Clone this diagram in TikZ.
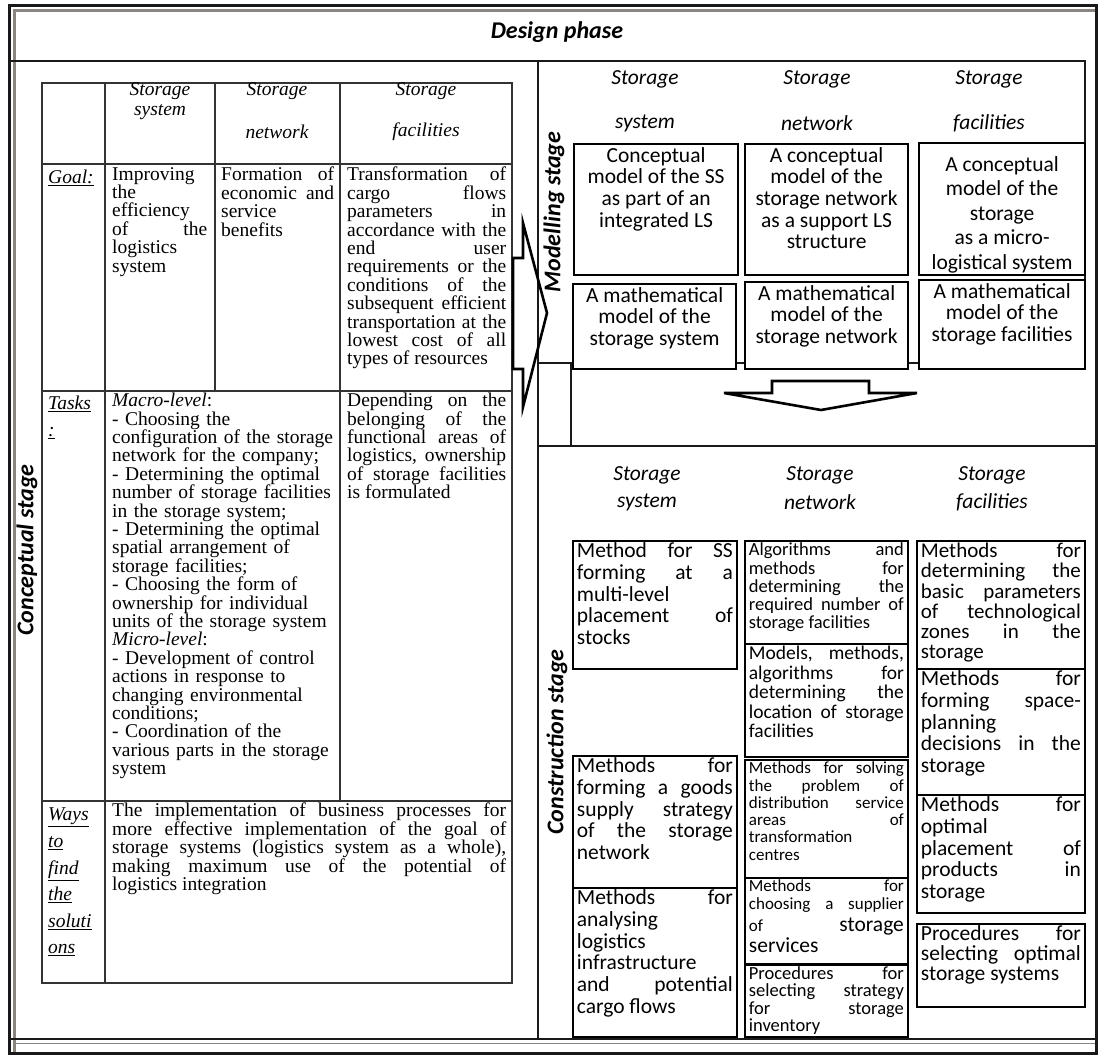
\documentclass[tikz,border=0pt]{standalone}
\usepackage{fontspec}
\setmainfont{Carlito}
\newfontfamily\tnr{Liberation Serif}
\usetikzlibrary{positioning}
\definecolor{framegray}{RGB}{138,133,126}
\hyphenpenalty=10000
\exhyphenpenalty=10000
\tolerance=10000
\hbadness=10000

\begin{document}
\begin{tikzpicture}[x=1pt,y=-1pt,
    frame/.style={line width=2.8pt, black!90},
    grayframe/.style={line width=3pt, framegray},
    tabline/.style={line width=1.3pt, black!80},
    shaft/.style={line width=2.6pt, black, line join=miter},
    stage/.style={font=\fontsize{24}{24}\selectfont\bfseries\itshape, rotate=90, inner sep=0pt},
    colhead/.style={font=\fontsize{21.5}{21.7}\selectfont\itshape, inner sep=0pt},
    mbox/.style={draw, line width=2.2pt, fill=white, anchor=north west, inner xsep=4pt, inner ysep=3pt},
    cbox/.style={draw, line width=1.8pt, fill=white, anchor=north west, inner xsep=4pt, inner ysep=2pt},
    thead/.style={font=\tnr\fontsize{19.5}{18.4}\selectfont\itshape, inner sep=0pt},
    tcell/.style={font=\tnr\fontsize{19.5}{18.4}\selectfont, anchor=north west, inner sep=0pt},
    tlabel/.style={font=\tnr\fontsize{19.5}{26.6}\selectfont\itshape, anchor=north west, inner sep=0pt, align=left}
]
\useasboundingbox (0,0) rectangle (1098,1055);

% outer frame and stage borders
\draw [grayframe] (14,1055) -- (14,10) -- (1096,10);
\draw [framegray, line width=1pt] (14,1043) -- (1096,1043);
\draw [frame] (9.5,5.5) rectangle (1096.5,1053.5);
\draw [frame] (9.5,61) -- (1085,61) -- (1085,363) -- (538,363);
\draw [frame] (538,61) -- (538,1039);
\draw [frame] (9.5,1039) -- (1096.5,1039);
\draw [frame] (571,363) -- (571,446);
\draw [frame] (538,446) -- (1096.5,446);

\node [font=\fontsize{24}{24}\selectfont\bfseries\itshape] (phase) at (557,32) {Design phase};

\node [stage] (stage_con) at (27,550)  {Conceptual stage};
\node [stage] (stage_mod) at (554,212) {Modelling stage};
\node [stage] (stage_bld) at (557,742) {Construction stage};

% conceptual table
\draw [tabline] (42,83) rectangle (512,983);
\draw [tabline] (42,164) -- (512,164);
\draw [tabline] (42,391) -- (512,391);
\draw [tabline] (42,801) -- (512,801);
\draw [tabline] (105,83) -- (105,983);
\draw [tabline] (215,83) -- (215,391);
\draw [tabline] (340,83) -- (340,801);

\node [thead] (th_ss_1) at (160,91)  {Storage};
\node [thead] (th_ss_2) at (160,112) {system};
\node [thead] (th_sn_1) at (277,91)  {Storage};
\node [thead] (th_sn_2) at (277,132) {network};
\node [thead] (th_sf_1) at (426,91)  {Storage};
\node [thead] (th_sf_2) at (426,132) {facilities};

\node [tlabel] (lbl_goal)  at (48,170) {\underline{Goal:}};
\node [tlabel] (lbl_tasks) at (48,396) {\underline{Tasks}\\\underline{:}};
\node [tlabel] (lbl_ways)  at (48,808) {\underline{Ways}\\\underline{to}\\\underline{find}\\\underline{the}\\\underline{soluti}\\\underline{ons}};

\node [tcell, text width=95pt, align=justify] (goal_ss) at (112,167)
    {Improving\linebreak the\linebreak efficiency\linebreak of the\linebreak logistics\linebreak system};
\node [tcell, text width=113pt, align=justify] (goal_sn) at (221,167)
    {Formation of\linebreak economic and\linebreak service\linebreak benefits};
\node [tcell, text width=159pt, align=justify] (goal_sf) at (347,167)
    {Transformation of\linebreak cargo flows\linebreak parameters in\linebreak accordance with the\linebreak end user\linebreak requirements or the\linebreak conditions of the\linebreak subsequent efficient\linebreak transportation at the\linebreak lowest cost of all\linebreak types of resources};

\node [tcell, text width=226pt, align=left] (tasks_ss) at (112,393)
    {\textit{Macro-level}:\\- Choosing the\\configuration of the storage\\network for the company;\\- Determining the optimal\\number of storage facilities\\in the storage system;\\- Determining the optimal\\spatial arrangement of\\storage facilities;\\- Choosing the form of\\ownership for individual\\units of the storage system\\\textit{Micro-level}:\\- Development of control\\actions in response to\\changing environmental\\conditions;\\- Coordination of the\\various parts in the storage\\system};
\node [tcell, text width=159pt, align=justify] (tasks_sf) at (347,393)
    {Depending on the\linebreak belonging of the\linebreak functional areas of\linebreak logistics, ownership\linebreak of storage facilities\linebreak is formulated};

\node [tcell, text width=394pt, align=justify] (ways) at (112,803)
    {The implementation of business processes for\linebreak more effective implementation of the goal of\linebreak storage systems (logistics system as a whole),\linebreak making maximum use of the potential of\linebreak logistics integration};

% arrows between stages
\draw [shaft] (513,258) -- (523,258) -- (523,223) -- (547,313) -- (523,407) -- (523,369) -- (513,369) -- cycle;
\draw [shaft] (772,381) -- (869,381) -- (869,393) -- (917,393) -- (821,410) -- (724,393) -- (772,393) -- cycle;

% modelling stage
\node [colhead] (mh_ss_1) at (645,79)  {Storage};
\node [colhead] (mh_ss_2) at (645,123) {system};
\node [colhead] (mh_sn_1) at (817,79)  {Storage};
\node [colhead] (mh_sn_2) at (817,123) {network};
\node [colhead] (mh_sf_1) at (989,79)  {Storage};
\node [colhead] (mh_sf_2) at (989,123) {facilities};

\begin{scope}[every node/.append style={font=\fontsize{21.5}{21.7}\selectfont}]
\node [mbox] (mod_1) at (573,143) {\parbox[t][125pt][t]{156pt}{\centering Conceptual\\model of the SS\\as part of an\\integrated LS}};
\node [mbox] (mod_2) at (744,143) {\parbox[t][125pt][t]{155pt}{\centering A conceptual\\model of the\\storage network\\as a support LS\\structure}};
\node [mbox] (mod_3) at (918,142) {\parbox[t][126pt][t]{158pt}{\centering\fontsize{21.5}{24.5}\selectfont\vspace*{10pt}A conceptual\\model of the\\storage\\as a micro-\\logistical system}};
\node [mbox] (mod_4) at (572,283) {\parbox[t][79pt][t]{155pt}{\centering A mathematical\\model of the\\storage system}};
\node [mbox] (mod_5) at (744,281) {\parbox[t][81pt][t]{155pt}{\centering A mathematical\\model of the\\storage network}};
\node [mbox] (mod_6) at (918,279) {\parbox[t][83pt][t]{158pt}{\centering A mathematical\\model of the\\storage facilities}};
\end{scope}

% construction stage
\node [colhead] (ch_ss_1) at (647,475) {Storage};
\node [colhead] (ch_ss_2) at (647,502) {system};
\node [colhead] (ch_sn_1) at (820,475) {Storage};
\node [colhead] (ch_sn_2) at (820,502) {network};
\node [colhead] (ch_sf_1) at (992,475) {Storage};
\node [colhead] (ch_sf_2) at (992,502) {facilities};

\node [cbox, font=\fontsize{21.5}{21.7}\selectfont] (bld_a) at (572,540) {\parbox[t][124pt][t]{156pt}{Method for SS\linebreak forming at a\linebreak multi-level\linebreak placement of\linebreak stocks}};
\node [cbox, font=\fontsize{21.5}{21.7}\selectfont] (bld_b) at (572,755) {\parbox[t][128pt][t]{156pt}{Methods for\linebreak forming a goods\linebreak supply strategy\linebreak of the storage\linebreak network}};
\node [cbox, font=\fontsize{21.5}{21.7}\selectfont] (bld_c) at (572,887) {\parbox[t][145pt][t]{156pt}{Methods for\linebreak analysing\linebreak logistics\linebreak infrastructure\linebreak and potential\linebreak cargo flows}};

\node [cbox, font=\fontsize{18.5}{18.3}\selectfont] (bld_d) at (744,540) {\parbox[t][99pt][t]{155pt}{Algorithms and\linebreak methods for\linebreak determining the\linebreak required number of\linebreak storage facilities}};
\node [cbox, font=\fontsize{19.5}{19.6}\selectfont] (bld_e) at (744,643) {\parbox[t][109pt][t]{155pt}{Models, methods,\linebreak algorithms for\linebreak determining the\linebreak location of storage\linebreak facilities}};
\node [cbox, font=\fontsize{17}{17.3}\selectfont] (bld_f) at (744,759) {\parbox[t][114pt][t]{155pt}{Methods for solving\linebreak the problem of\linebreak distribution service\linebreak areas of\linebreak transformation\linebreak centres}};
\node [cbox, font=\fontsize{17}{17.7}\selectfont] (bld_g) at (744,877) {\parbox[t][82pt][t]{155pt}{\parskip=0pt {\parfillskip=0pt Methods for\linebreak choosing a supplier\par}
    \fontsize{21.5}{21.7}\selectfont{\fontsize{17}{17.7}\selectfont of} storage\linebreak services\par}};
\node [cbox, font=\fontsize{18.5}{17.2}\selectfont] (bld_h) at (744,964) {\parbox[t][68pt][t]{155pt}{Procedures for\linebreak selecting strategy\linebreak for storage\linebreak inventory}};

\node [cbox, font=\fontsize{21}{20.3}\selectfont] (bld_i) at (916,540) {\parbox[t][124pt][t]{160pt}{Methods for\linebreak determining the\linebreak basic parameters\linebreak of technological\linebreak zones in the\linebreak storage}};
\node [cbox, font=\fontsize{21.5}{21.7}\selectfont] (bld_j) at (916,668) {\parbox[t][122pt][t]{160pt}{Methods for\linebreak forming space-\linebreak planning\linebreak decisions in the\linebreak storage}};
\node [cbox, font=\fontsize{21.5}{21.7}\selectfont] (bld_k) at (916,794) {\parbox[t][114pt][t]{160pt}{Methods for\linebreak optimal\linebreak placement of\linebreak products in\linebreak storage}};
\node [cbox, font=\fontsize{21.5}{20}\selectfont] (bld_l) at (916,923) {\parbox[t][79pt][t]{160pt}{Procedures for\linebreak selecting optimal\linebreak storage systems}};

\end{tikzpicture}
\end{document}
